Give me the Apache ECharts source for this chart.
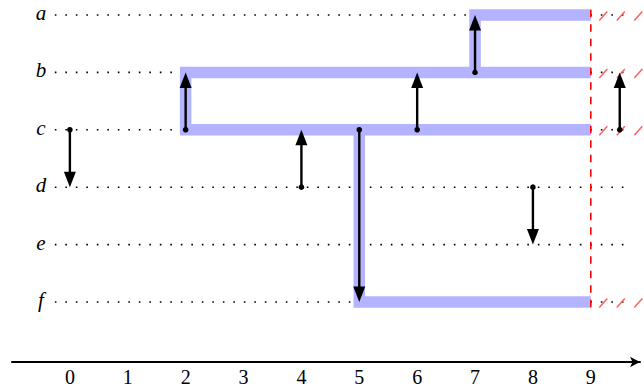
<!DOCTYPE html>
<html>
<head>
<meta charset="utf-8">
<script src="https://cdn.jsdelivr.net/npm/echarts/dist/echarts.min.js"></script>
<style>
html,body{margin:0;padding:0;background:#fff;}
#chart{width:644px;height:387px;}
</style>
</head>
<body>
<div id="chart"></div>
<script>
// ---- data ----
const rows = ['a', 'b', 'c', 'd', 'e', 'f'];
const xTicks = [0, 1, 2, 3, 4, 5, 6, 7, 8, 9];
const arrowX = [0, 2, 4, 5, 6, 7, 8, 9.5];
const arrowFrom = ['c', 'c', 'd', 'c', 'c', 'b', 'd', 'c'];
const arrowTo = ['d', 'b', 'c', 'f', 'b', 'a', 'e', 'b'];
const path1X = [9, 2, 2, 9];
const path1R = ['b', 'b', 'c', 'c'];
const path2X = [9, 7, 7];
const path2R = ['a', 'a', 'b'];
const path3X = [5, 5, 9];
const path3R = ['c', 'f', 'f'];
const hatchRows = ['a', 'b', 'c', 'f'];
const cutoffX = 9;

// ---- helpers ----
const rowVal = r => rows.length - 1 - rows.indexOf(r);
const Y_MIN = -1.045, Y_MAX = 5.261;
const X_MIN = -1, X_MAX = 9.85;
const DOT_START = -0.26, DOT_END = 9.64;
const SERIF = '"Liberation Serif", "DejaVu Serif", serif';

function pathData(xs, rs) { return xs.map((x, i) => [x, rowVal(rs[i])]); }

const series = [];

// dotted row lines
rows.forEach(r => {
  series.push({
    type: 'line', z: 1, symbol: 'none', silent: true,
    data: [[DOT_START, rowVal(r)], [DOT_END, rowVal(r)]],
    lineStyle: { color: '#000', width: 1.6, type: [1.6, 8.9], cap: 'butt' }
  });
});

// blue paths
[[path1X, path1R], [path2X, path2R], [path3X, path3R]].forEach(p => {
  series.push({
    type: 'line', z: 2, symbol: 'none', silent: true,
    data: pathData(p[0], p[1]),
    lineStyle: { color: '#b3b3ff', width: 11.5, join: 'miter', cap: 'butt' }
  });
});

// red dashed cutoff
series.push({
  type: 'line', z: 3, symbol: 'none', silent: true,
  data: [[cutoffX, rowVal('a') + 0.09], [cutoffX, rowVal('f') - 0.12]],
  lineStyle: { color: '#ff0000', width: 1.6, type: [7.5, 7] }
});

// red hatch beyond cutoff
series.push({
  type: 'custom', z: 3, silent: true, clip: false,
  data: hatchRows.map(r => [cutoffX, rowVal(r)]),
  encode: { x: 0, y: 1 },
  renderItem: function (params, api) {
    const p = api.coord([api.value(0), api.value(1)]);
    const children = [];
    for (let n = 0; n < 3; n++) {
      const cx = p[0] + 12.5 + n * 17.5, cy = p[1] + 1;
      children.push({
        type: 'line',
        shape: { x1: cx - 4, y1: cy + 4.5, x2: cx + 4, y2: cy - 4.5 },
        style: { stroke: '#ff6060', lineWidth: 1.5 }
      });
    }
    return { type: 'group', children: children };
  }
});

// arrows
series.push({
  type: 'custom', z: 5, silent: true, clip: false,
  data: arrowX.map((x, i) => [x, rowVal(arrowFrom[i]), rowVal(arrowTo[i])]),
  encode: { x: 0, y: [1, 2] },
  renderItem: function (params, api) {
    const p1 = api.coord([api.value(0), api.value(1)]);
    const p2 = api.coord([api.value(0), api.value(2)]);
    const dir = p2[1] > p1[1] ? 1 : -1;
    const L = 15.5, W = 6;
    const base = p2[1] - dir * L;
    return {
      type: 'group', children: [
        { type: 'line', shape: { x1: p1[0], y1: p1[1], x2: p2[0], y2: base + dir * 2 }, style: { stroke: '#000', lineWidth: 2.4 } },
        { type: 'polygon', shape: { points: [[p2[0], p2[1]], [p2[0] - W, base], [p2[0] + W, base]] }, style: { fill: '#000' } },
        { type: 'circle', shape: { cx: p1[0], cy: p1[1], r: 2.8 }, style: { fill: '#000' } }
      ]
    };
  }
});

// row labels (italic letters)
series.push({
  type: 'custom', z: 5, silent: true, clip: false,
  data: rows.map(r => [-0.5, rowVal(r)]),
  encode: { x: 0, y: 1 },
  renderItem: function (params, api) {
    const p = api.coord([api.value(0), api.value(1)]);
    return {
      type: 'text', x: p[0], y: p[1] - 2,
      style: { text: rows[params.dataIndex], align: 'center', verticalAlign: 'middle', font: 'italic 21px ' + SERIF, fill: '#000' }
    };
  }
});

const option = {
  animation: false,
  backgroundColor: '#fff',
  grid: { left: 12, right: 4, top: 0, bottom: 25, containLabel: false },
  xAxis: {
    type: 'value', min: X_MIN, max: X_MAX, interval: 1,
    axisLine: { show: true, onZero: false, symbol: ['none', 'arrow'], symbolSize: [8, 10], lineStyle: { color: '#000', width: 2 } },
    axisTick: { show: false },
    splitLine: { show: false },
    axisLabel: {
      color: '#000', fontFamily: SERIF, fontSize: 20, margin: 5,
      formatter: function (v) {
        const k = Math.round(v);
        return (Math.abs(v - k) < 1e-6 && xTicks.indexOf(k) >= 0) ? String(k) : '';
      }
    }
  },
  yAxis: { type: 'value', min: Y_MIN, max: Y_MAX, show: false },
  series: series
};

const chart = echarts.init(document.getElementById('chart'), null, { renderer: 'svg' });
chart.setOption(option);
</script>
</body>
</html>
